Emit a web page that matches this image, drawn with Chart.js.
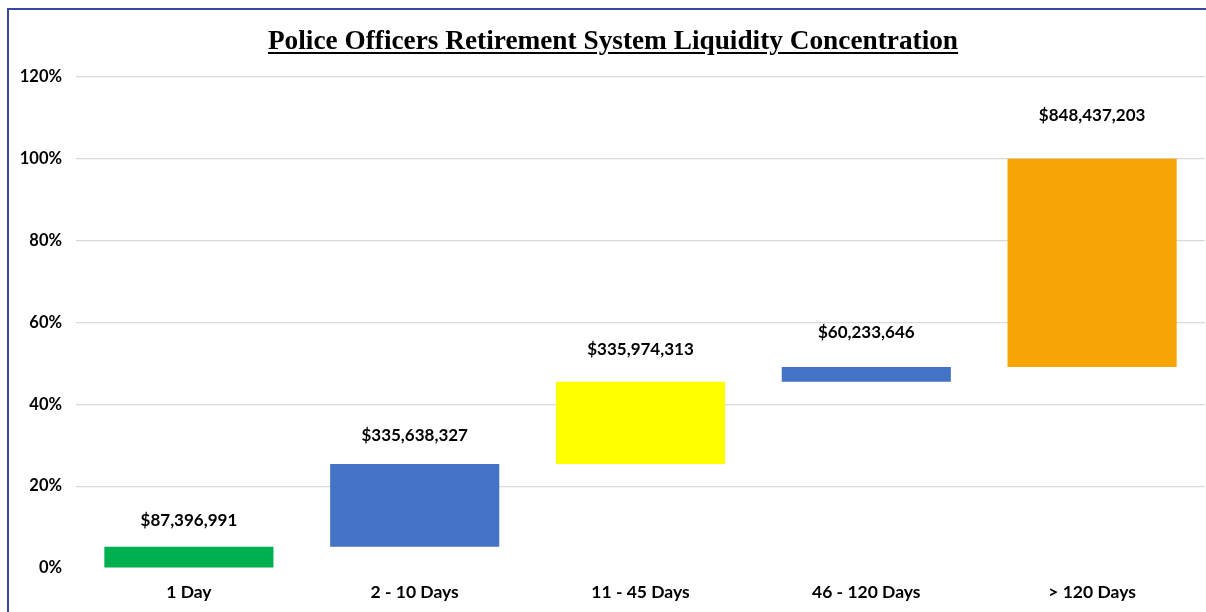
<!DOCTYPE html>
<html>
<head>
<meta charset="utf-8">
<script src="https://cdn.jsdelivr.net/npm/chart.js@4.4.1/dist/chart.umd.min.js"></script>
<style>
  html, body { margin:0; padding:0; background:#fff; overflow:hidden; }
  #wrap { position:relative; width:1206px; height:612px; }
  #frame { position:absolute; left:7px; top:8px; width:1400px; height:800px; border:2px solid #3a47a0; box-sizing:border-box; }
  #title { position:absolute; left:10px; top:25px; width:1206px; text-align:center;
           font-family:"Liberation Serif","Times New Roman",serif; font-weight:bold; font-size:27.3px;
           line-height:31px; text-decoration:underline; text-underline-offset:3px; color:#000; }
  canvas { position:absolute; left:0; top:0; }
</style>
</head>
<body>
<div id="wrap">
  <div id="frame"></div>
  <canvas id="c" width="1206" height="612"></canvas>
  <div id="title">Police Officers Retirement System Liquidity Concentration</div>
</div>
<script>
// categories and values
const categories = ['1 Day', '2 - 10 Days', '11 - 45 Days', '46 - 120 Days', '> 120 Days'];
const amounts = ['$87,396,991', '$335,638,327', '$335,974,313', '$60,233,646', '$848,437,203'];
const startPct = [0, 5.2, 25.4, 45.5, 49.1];
const endPct = [5.2, 25.4, 45.5, 49.1, 100];
const yTicks = [0, 20, 40, 60, 80, 100, 120];

const barColors = ['#00b050', '#4472c4', '#ffff00', '#4472c4', '#f5a504'];
const labelGap = [26, 29, 32, 35, 43]; // distance of the $ label above each bar top

const labelPlugin = {
    id: 'amountLabels',
    afterDatasetsDraw(chart) {
        let ctx = chart.ctx;
        let meta = chart.getDatasetMeta(0);
        ctx.save();
        ctx.font = 'bold 17px Lato, "Open Sans", sans-serif';
        ctx.fillStyle = '#000';
        ctx.textAlign = 'center';
        ctx.textBaseline = 'middle';
        meta.data.forEach((bar, i) => {
            let top = Math.min(bar.y, bar.base);
            ctx.fillText(amounts[i], bar.x, top - labelGap[i]);
        });
        ctx.restore();
    }
};

new Chart(document.getElementById('c'), {
    type: 'bar',
    data: {
        labels: categories,
        datasets: [{
            data: categories.map((c, i) => [startPct[i], endPct[i]]),
            backgroundColor: barColors,
            borderWidth: 0,
            borderSkipped: false,
            categoryPercentage: 1,
            barPercentage: 0.749
        }]
    },
    options: {
        responsive: false,
        animation: false,
        layout: { padding: { top: 77, left: 0, right: 1, bottom: 0 } },
        plugins: { legend: { display: false }, tooltip: { enabled: false }, title: { display: false } },
        scales: {
            y: {
                min: 0, max: 120,
                afterBuildTicks: (s) => { s.ticks = yTicks.map(v => ({ value: v })); },
                afterFit: (s) => { s.width = 76; },
                border: { display: false },
                grid: {
                    drawTicks: false,
                    lineWidth: 1.2,
                    color: (c) => c.tick && c.tick.value === 0 ? 'rgba(0,0,0,0)' : '#d9d9d9'
                },
                ticks: {
                    padding: 14,
                    color: '#000',
                    font: { family: 'Lato, "Open Sans", sans-serif', weight: 'bold', size: 16.5 },
                    callback: (v) => v + '%'
                }
            },
            x: {
                afterFit: (s) => { s.height = 44; },
                border: { display: false },
                grid: { display: false, drawTicks: false },
                ticks: {
                    padding: 14,
                    color: '#000',
                    font: { family: 'Lato, "Open Sans", sans-serif', weight: 'bold', size: 17.5 }
                }
            }
        }
    },
    plugins: [labelPlugin]
});
</script>
</body>
</html>
